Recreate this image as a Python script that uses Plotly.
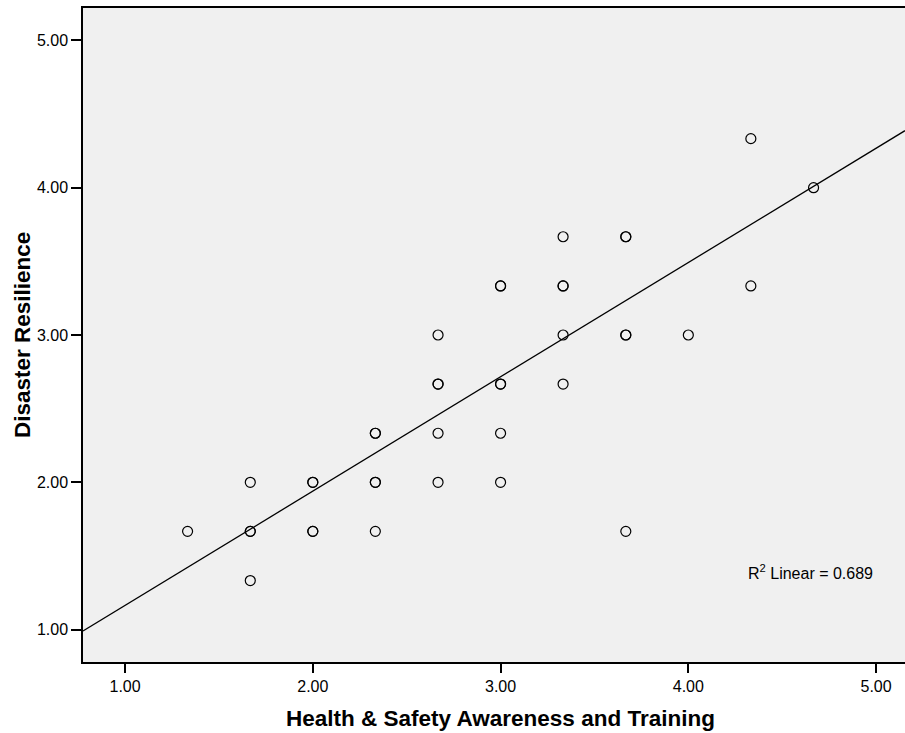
import plotly.graph_objects as go

# Data (duplicates are drawn multiple times, making them look bolder)
x_vals = [1.333, 1.667, 1.667, 1.667, 1.667, 2.0, 2.0, 2.0, 2.0,
          2.333, 2.333, 2.333, 2.333, 2.333,
          2.667, 2.667, 2.667, 2.667, 2.667,
          3.0, 3.0, 3.0, 3.0, 3.0, 3.0,
          3.333, 3.333, 3.333, 3.333, 3.333,
          3.667, 3.667, 3.667, 3.667, 3.667,
          4.0, 4.333, 4.333, 4.667]
y_vals = [1.667, 2.0, 1.667, 1.667, 1.333, 2.0, 2.0, 1.667, 1.667,
          2.333, 2.333, 2.0, 2.0, 1.667,
          3.0, 2.667, 2.667, 2.333, 2.0,
          3.333, 3.333, 2.667, 2.667, 2.333, 2.0,
          3.667, 3.333, 3.333, 3.0, 2.667,
          3.667, 3.667, 3.0, 3.0, 1.667,
          3.0, 4.333, 3.333, 4.0]

fit_intercept = 0.388
fit_slope = 0.776
r2_label = "R<sup>2</sup> Linear = 0.689"

x_range = [0.776, 5.154]
y_range = [0.78, 5.22]
tick_vals = [1.0, 2.0, 3.0, 4.0, 5.0]
tick_text = ["1.00", "2.00", "3.00", "4.00", "5.00"]

x_title = "Health & Safety Awareness and Training"
y_title = "Disaster Resilience"

FONT = "Liberation Sans, Arial, sans-serif"

fig = go.Figure()
fig.add_trace(go.Scatter(
    x=[x_range[0], x_range[1]],
    y=[fit_intercept + fit_slope * x_range[0], fit_intercept + fit_slope * x_range[1]],
    mode="lines", line=dict(color="black", width=1.3), hoverinfo="skip", showlegend=False))
fig.add_trace(go.Scatter(
    x=x_vals, y=y_vals, mode="markers",
    marker=dict(symbol="circle-open", size=10, color="black", line=dict(width=1.2)),
    showlegend=False))

fig.add_annotation(x=4.65, y=1.39, text=r2_label, showarrow=False,
                   font=dict(family=FONT, size=16, color="black"),
                   xanchor="center", yanchor="middle")

# axis titles (placed as annotations; x title centred on 3.0 like the reference)
fig.add_annotation(x=3.0, xref="x", y=-0.087, yref="paper", text="<b>" + x_title + "</b>",
                   showarrow=False, font=dict(family=FONT, size=22.5, color="black"),
                   xanchor="center", yanchor="middle")
fig.add_annotation(x=22, xref="paper", xshift=0, y=0.5, yref="paper",
                   text="<b>" + y_title + "</b>", textangle=-90,
                   showarrow=False, font=dict(family=FONT, size=22.5, color="black"),
                   xanchor="center", yanchor="middle")

fig.update_layout(
    width=905, height=733,
    margin=dict(l=83, r=0, t=8, b=71),
    paper_bgcolor="white", plot_bgcolor="#f0f0f0",
    font=dict(family=FONT, size=16, color="black"),
)
# convert y-title x position (pixel 22) to paper coords
fig.layout.annotations[2].x = (22 - 83) / (905 - 83)

fig.update_xaxes(range=x_range, tickvals=tick_vals, ticktext=tick_text,
                 tickfont=dict(family=FONT, size=16, color="black"),
                 showgrid=False, zeroline=False, showline=True, linecolor="black",
                 linewidth=1.5, mirror=True, ticks="outside", ticklen=9, tickwidth=1.5,
                 tickcolor="black")
fig.update_yaxes(range=y_range, tickvals=tick_vals, ticktext=tick_text,
                 tickfont=dict(family=FONT, size=16, color="black"),
                 showgrid=False, zeroline=False, showline=True, linecolor="black",
                 linewidth=1.5, mirror=False, ticks="outside", ticklen=10, tickwidth=1.5,
                 tickcolor="black")

fig.write_html("out.html")
